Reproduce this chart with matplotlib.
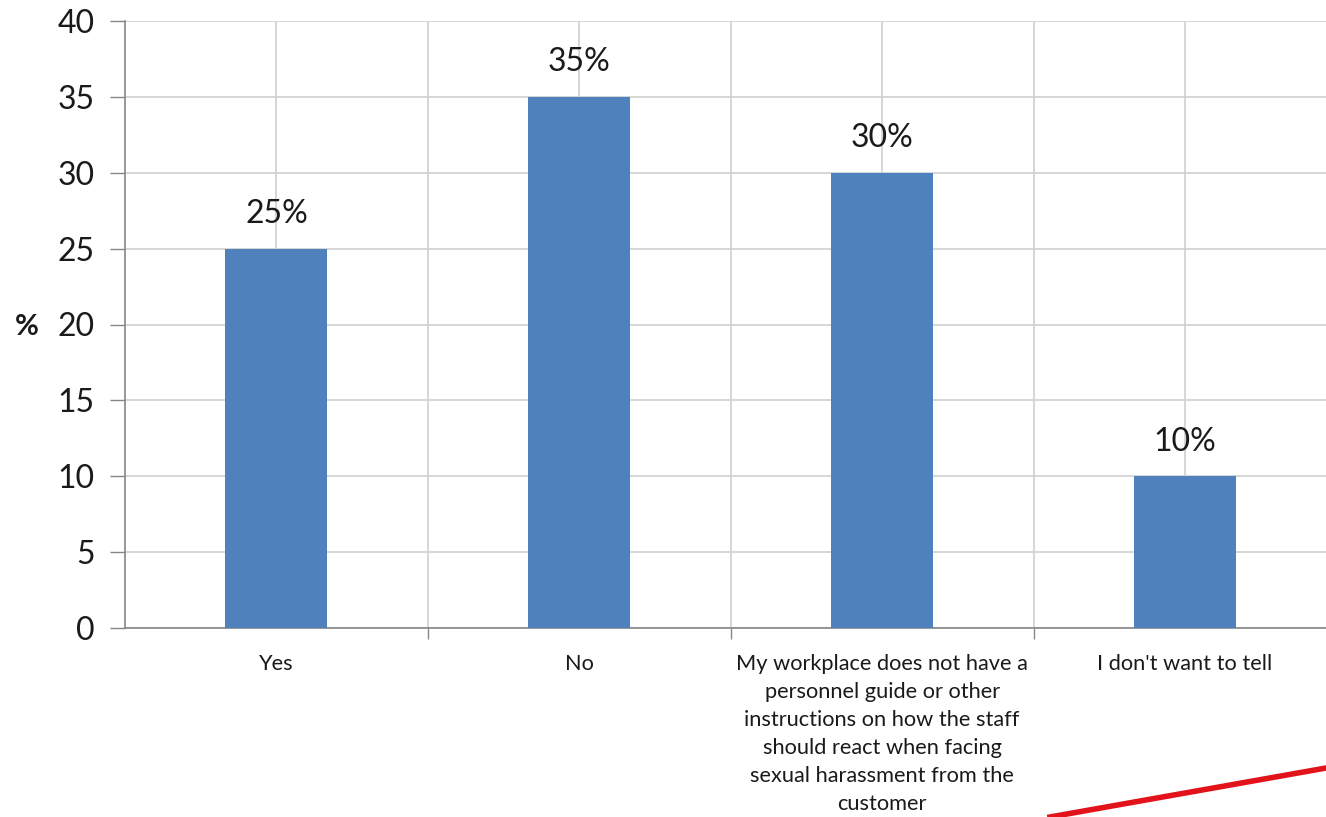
import matplotlib.pyplot as plt
from matplotlib.lines import Line2D

categories = ['Yes', 'No',
              'My workplace does not have a\npersonnel guide or other\ninstructions on how the staff\nshould react when facing\nsexual harassment from the\ncustomer',
              "I don't want to tell"]
values = [25, 35, 30, 10]
y_ticks = [0, 5, 10, 15, 20, 25, 30, 35, 40]

plt.rcParams['font.family'] = ['Lato', 'DejaVu Sans']

fig = plt.figure(figsize=(13.26, 8.17), dpi=100)
ax = fig.add_axes([125 / 1326, 1 - 628 / 817, 1211.5 / 1326, 607 / 817])

x = list(range(len(categories)))
ax.bar(x, values, width=0.337, color='#4F81BD', zorder=3)

for xi, v in zip(x, values):
    ax.text(xi, v + 1.3, f'{v}%', ha='center', va='bottom', fontsize=23, color='#1a1a1a')

ax.set_xlim(-0.5, 3.5)
ax.set_ylim(0, 40)
ax.set_yticks(y_ticks)
ax.set_yticklabels([str(t) for t in y_ticks], fontsize=23, color='#1a1a1a')

ax.set_xticks(x)
ax.set_xticklabels(categories, fontsize=15.7, color='#1a1a1a', linespacing=1.5, va='top')
ax.set_xticks([0.5, 1.5, 2.5], minor=True)
ax.tick_params(axis='x', which='major', length=0, pad=19)
ax.tick_params(axis='x', which='minor', length=8, width=1, color='#868686', direction='out')
ax.tick_params(axis='y', length=11, width=1, color='#868686', pad=11)

ax.grid(True, which='both', color='#D0D0D0', linewidth=1.2, zorder=0)
ax.set_axisbelow(True)

for side in ['top', 'right']:
    ax.spines[side].set_visible(False)
for side in ['left', 'bottom']:
    ax.spines[side].set_color('#868686')
    ax.spines[side].set_linewidth(1.2)

fig.text(27 / 1326, 1 - 327 / 817, '%', fontsize=21, fontweight='bold', ha='center', va='center', color='#1a1a1a')

# decorative red stroke at the lower right
fig.add_artist(Line2D([1050 / 1326, 1.0], [0.0, 1 - 768 / 817],
                      transform=fig.transFigure, color='#E3131B', linewidth=4))

fig.savefig('out.png', dpi=100)
